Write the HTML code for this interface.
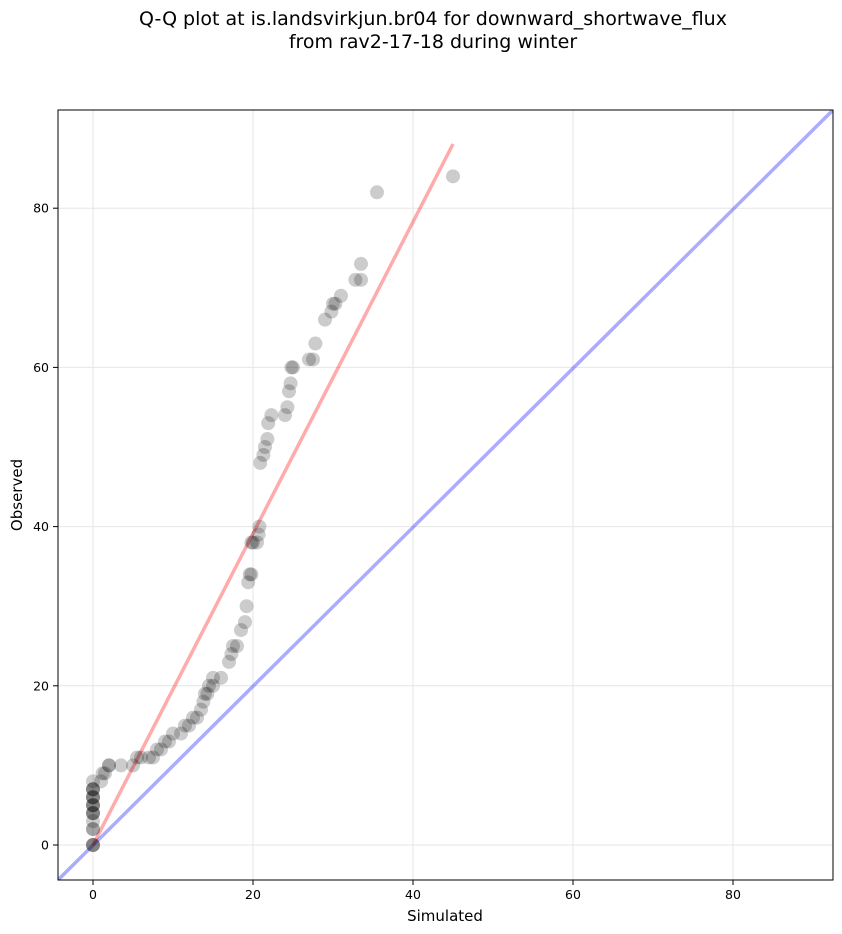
<!DOCTYPE html>
<html><head><meta charset="utf-8"><style>
body{margin:0;background:#fff;}
svg{display:block;font-family:"DejaVu Sans","Liberation Sans",sans-serif;}
</style></head><body>
<svg id="s" width="842" height="934" xmlns="http://www.w3.org/2000/svg">
<rect width="842" height="934" fill="#fff"/>
<text x="433" y="25" font-size="19" text-anchor="middle">Q-Q plot at is.landsvirkjun.br04 for downward_shortwave_flux</text>
<text x="433" y="48" font-size="19" text-anchor="middle">from rav2-17-18 during winter</text>
<g id="grid" stroke="#e6e6e6" stroke-width="1"></g>
<clipPath id="c"><rect x="58" y="110" width="775" height="770"/></clipPath>
<g clip-path="url(#c)">
<line x1="58" y1="880" x2="833" y2="110" stroke="#0000ff" stroke-opacity="0.33" stroke-width="3.5"/>
<line x1="93" y1="845" x2="453" y2="144" stroke="#ff0000" stroke-opacity="0.33" stroke-width="3.5"/>
<g id="pts"></g>
</g>
<rect x="58" y="110" width="775" height="770" fill="none" stroke="#000" stroke-width="1"/>
<g id="ticks" font-size="12.5"></g>
<text x="445" y="921" font-size="15" text-anchor="middle">Simulated</text>
<text transform="translate(22,495) rotate(-90)" font-size="15" text-anchor="middle">Observed</text>
</svg>
<script>
var NS="http://www.w3.org/2000/svg";
function X(v){return 93+v*8;}
function Y(v){return 845-v*7.96;}
function el(p,t,a,txt){var e=document.createElementNS(NS,t);for(var k in a)e.setAttribute(k,a[k]);if(txt!==undefined)e.textContent=txt;document.getElementById(p).appendChild(e);}
[0,20,40,60,80].forEach(function(v){
 el("grid","line",{x1:X(v),x2:X(v),y1:110,y2:880});
 el("grid","line",{x1:58,x2:833,y1:Y(v),y2:Y(v)});
 el("ticks","line",{x1:X(v),x2:X(v),y1:880,y2:885,stroke:"#000"});
 el("ticks","line",{x1:53,x2:58,y1:Y(v),y2:Y(v),stroke:"#000"});
 el("ticks","text",{x:X(v),y:899,"text-anchor":"middle"},v);
 el("ticks","text",{x:49,y:Y(v)+4.5,"text-anchor":"end"},v);
});
var P=[[0,0],[0,0],[0,0],[0,2],[0,2],[0,3],[0,4],[0,4],[0,4],[0,5],[0,5],[0,5],[0,6],[0,6],[0,6],[0,7],[0,7],[0,7],[0,8],[1,8],[1.2,9],[1.5,9],[2,10],[2,10],[3.5,10],[5,10],[5.5,11],[6,11],[7,11],[7.5,11],[8,12],[8.5,12],[9,13],[9.5,13],[10,14],[11,14],[11.5,15],[12,15],[12.5,16],[13,16],[13.5,17],[13.8,18],[14,19],[14.3,19],[14.5,20],[15,20],[15,21],[16,21],[17,23],[17.3,24],[17.5,25],[18,25],[18.5,27],[19,28],[19.2,30],[19.4,33],[19.6,34],[19.8,34],[19.8,38],[20,38],[20.5,38],[20.7,39],[20.8,40],[20.9,48],[21.3,49],[21.5,50],[21.8,51],[21.9,53],[22.3,54],[24,54],[24.3,55],[24.5,57],[24.7,58],[24.8,60],[25,60],[27,61],[27.5,61],[27.8,63],[29,66],[29.8,67],[30,68],[30.3,68],[31,69],[32.8,71],[33.5,71],[33.5,73],[35.5,82],[45,84]];
P.forEach(function(p){el("pts","circle",{cx:X(p[0]),cy:Y(p[1]),r:7,fill:"#000","fill-opacity":0.2});});
</script>
</body></html>
